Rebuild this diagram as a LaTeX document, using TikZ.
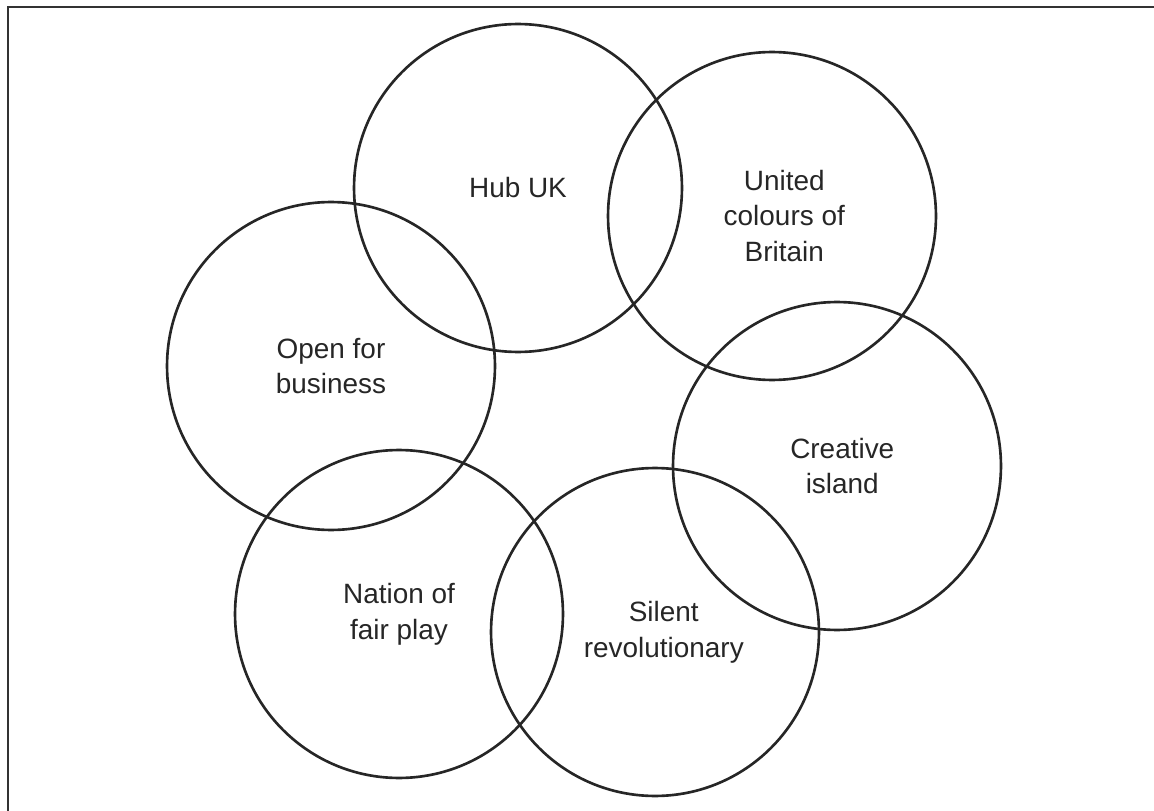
\documentclass[tikz,border=0pt]{standalone}
\usepackage{fontspec}
\setmainfont{Liberation Sans}
\usetikzlibrary{positioning}

\begin{document}
\begin{tikzpicture}[x=0.02cm,y=-0.02cm,
    every node/.style={circle,draw=black!85,line width=1.5pt,minimum size=6.56cm,inner sep=0pt,
                       align=center,font=\fontsize{15.9}{20.4}\selectfont,text=black!85}]
    \useasboundingbox (0,0) rectangle (1154,811);
    % frame, only top and left edges show
    \draw[line width=1.2pt,black!80] (1154,7) -- (8,7) -- (8,811);
    \node (hub) at (518,188) {Hub UK};
    \node (united) at (772,216) {\hspace*{14pt}United\\\hspace*{14pt}colours of\\\hspace*{14pt}Britain};
    \node (open) at (331,366) {Open for\\business};
    \node (creative) at (837,466) {\hspace*{6pt}Creative\\\hspace*{6pt}island};
    \node (nation) at (399,614) {Nation of\\fair play};
    \node (silent) at (655,632) {\hspace*{10pt}Silent\\\hspace*{10pt}revolutionary};
  \end{tikzpicture}
\end{document}
